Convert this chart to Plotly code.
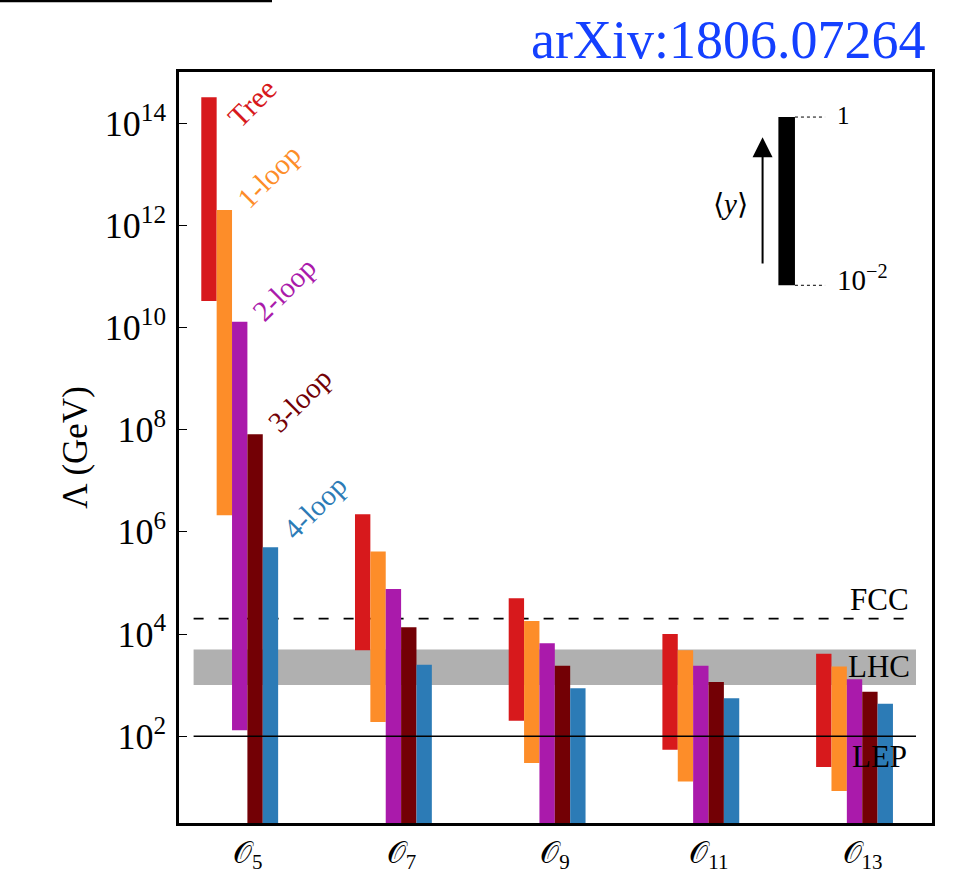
import plotly.graph_objects as go
import numpy as np

# ---- data (GeV) ----
operators = ["𝒪<sub>5</sub>", "𝒪<sub>7</sub>", "𝒪<sub>9</sub>", "𝒪<sub>11</sub>", "𝒪<sub>13</sub>"]
series_names = ["Tree", "1-loop", "2-loop", "3-loop", "4-loop"]

tree_top = [3.2e14, 2.2e6, 5.0e4, 1.0e4, 4.1e3]
tree_bot = [3.3e10, 4.8e3, 2.0e2, 54, 25]
loop1_top = [2.0e12, 4.1e5, 1.8e4, 4.8e3, 2.3e3]
loop1_bot = [2.1e6, 1.9e2, 30, 13, 8.5]
loop2_top = [1.3e10, 7.6e4, 6.6e3, 2.4e3, 1.3e3]
loop2_bot = [1.3e2, 1, 1, 1, 1]
loop3_top = [8.1e7, 1.35e4, 2.4e3, 1.15e3, 7.4e2]
loop3_bot = [1, 1, 1, 1, 1]
loop4_top = [5.0e5, 2.5e3, 8.7e2, 5.5e2, 4.3e2]
loop4_bot = [1, 1, 1, 1, 1]

fcc_scale = 2.0e4
lhc_band = [1.0e3, 5.0e3]
lep_scale = 1.0e2

ytick_vals = [1e2, 1e4, 1e6, 1e8, 1e10, 1e12, 1e14]
ytick_text = ["10<sup>2</sup>", "10<sup>4</sup>", "10<sup>6</sup>", "10<sup>8</sup>",
              "10<sup>10</sup>", "10<sup>12</sup>", "10<sup>14</sup>"]

colors = ["#d7191c", "#fd8d29", "#aa1aab", "#730005", "#2c7bb6"]
tops = [tree_top, loop1_top, loop2_top, loop3_top, loop4_top]
bots = [tree_bot, loop1_bot, loop2_bot, loop3_bot, loop4_bot]

FONT = "Liberation Serif"
bar_w = 0.1
group_x = np.arange(len(operators))

fig = go.Figure()
for k, (name, top, bot, col) in enumerate(zip(series_names, tops, bots, colors)):
    off = (k - 2) * bar_w
    fig.add_trace(go.Bar(
        x=group_x + off,
        y=np.array(top) - np.array(bot),
        base=bot,
        width=bar_w,
        marker=dict(color=col, line=dict(width=0)),
        name=name,
        showlegend=False,
    ))

# loop labels on first group
label_xshift = [2, -4, -4, -4, -4]
label_yshift = [-39, -7, -8, -7, -1]
for k, (name, top, col) in enumerate(zip(series_names, tops, colors)):
    off = (k - 2) * bar_w
    fig.add_annotation(
        x=group_x[0] + off + bar_w / 2, y=np.log10(top[0]),
        xref="x", yref="y",
        text=name, showarrow=False, textangle=-45,
        xanchor="left", yanchor="bottom", xshift=label_xshift[k], yshift=label_yshift[k],
        font=dict(family=FONT, size=30 if k == 0 else 29, color=col),
    )

# reference scales (shapes on a log axis take data values)
xl0, xl1 = -0.3, 4.4
fig.add_shape(type="rect", x0=xl0, x1=xl1, y0=lhc_band[0], y1=lhc_band[1],
              xref="x", yref="y", fillcolor="#b0b0b0", line=dict(width=0), layer="below")
fig.add_shape(type="line", x0=xl0, x1=xl1, y0=fcc_scale, y1=fcc_scale,
              xref="x", yref="y", line=dict(color="black", width=1.6, dash="10px,15px"), layer="below")
fig.add_shape(type="line", x0=xl0, x1=xl1, y0=lep_scale, y1=lep_scale,
              xref="x", yref="y", line=dict(color="black", width=1.6), layer="above")

for txt, yv in [("FCC", 10 ** 4.68), ("LHC", 10 ** 3.36), ("LEP", 10 ** 1.6)]:
    fig.add_annotation(x=4.16, y=np.log10(yv), xref="x", yref="y", text=txt, showarrow=False,
                       font=dict(family=FONT, size=31, color="black"))

# inset coupling legend
fig.add_shape(type="rect", x0=0.796, x1=0.818, y0=0.716, y1=0.940, xref="x domain", yref="y domain",
              fillcolor="black", line=dict(width=0))
for yy in [0.716, 0.940]:
    fig.add_shape(type="line", x0=0.818, x1=0.858, y0=yy, y1=yy, xref="x domain", yref="y domain",
                  line=dict(color="black", width=1, dash="3px,3px"))
fig.add_annotation(x=0.871, y=0.942, xref="x domain", yref="y domain", text="1", showarrow=False,
                   xanchor="left", yanchor="middle", font=dict(family=FONT, size=25, color="black"))
fig.add_annotation(x=0.871, y=0.726, xref="x domain", yref="y domain", text="10<sup>−2</sup>",
                   showarrow=False, xanchor="left", yanchor="middle",
                   font=dict(family=FONT, size=29, color="black"))
fig.add_annotation(x=0.775, y=0.913, ax=0.775, ay=0.743, xref="x domain", yref="y domain",
                   axref="x domain", ayref="y domain", text="", showarrow=True,
                   arrowhead=2, arrowsize=2.0, arrowwidth=2, arrowcolor="black", standoff=0)
fig.add_annotation(x=0.758, y=0.848, xref="x domain", yref="y domain", text="⟨<i>y</i>⟩",
                   showarrow=False, font=dict(family=FONT, size=29, color="black"))

# arXiv tag and top-left rule
fig.add_annotation(x=(927 - 179) / 753, y=(823 - 40) / 751, xref="paper", yref="paper",
                   text="arXiv:1806.07264", showarrow=False, xanchor="right", yanchor="middle",
                   font=dict(family=FONT, size=54, color="#1440ff"))
fig.add_shape(type="line", x0=-179 / 753, x1=(272 - 179) / 753, y0=(823 - 1) / 751, y1=(823 - 1) / 751,
              xref="paper", yref="paper", line=dict(color="black", width=2.5))

fig.update_layout(
    width=980, height=874,
    margin=dict(l=179, r=48, t=72, b=51, autoexpand=False),
    paper_bgcolor="white", plot_bgcolor="white",
    barmode="overlay",
    font=dict(family=FONT, color="black"),
    xaxis=dict(range=[-0.395, 4.504], tickvals=list(group_x), ticktext=operators,
               ticks="", showline=True, mirror=True, linecolor="black", linewidth=2.5,
               showgrid=False, zeroline=False, tickfont=dict(family=FONT, size=30),
               ticklabelshift=8, ticklabelstandoff=1),
    yaxis=dict(type="log", range=[np.log10(2), 15], tickvals=ytick_vals, ticktext=ytick_text,
               ticks="inside", ticklen=8, tickwidth=1.2, tickcolor="black",
               showline=True, mirror=True, linecolor="black", linewidth=2.5,
               showgrid=False, zeroline=False, tickfont=dict(family=FONT, size=36),
               ticklabelstandoff=3,
               title=dict(text="Λ (GeV)", font=dict(family=FONT, size=35), standoff=7)),
)

fig.write_html("out.html", config={"displayModeBar": False},
               post_script="document.body.style.margin='0';document.body.style.padding='0';")
